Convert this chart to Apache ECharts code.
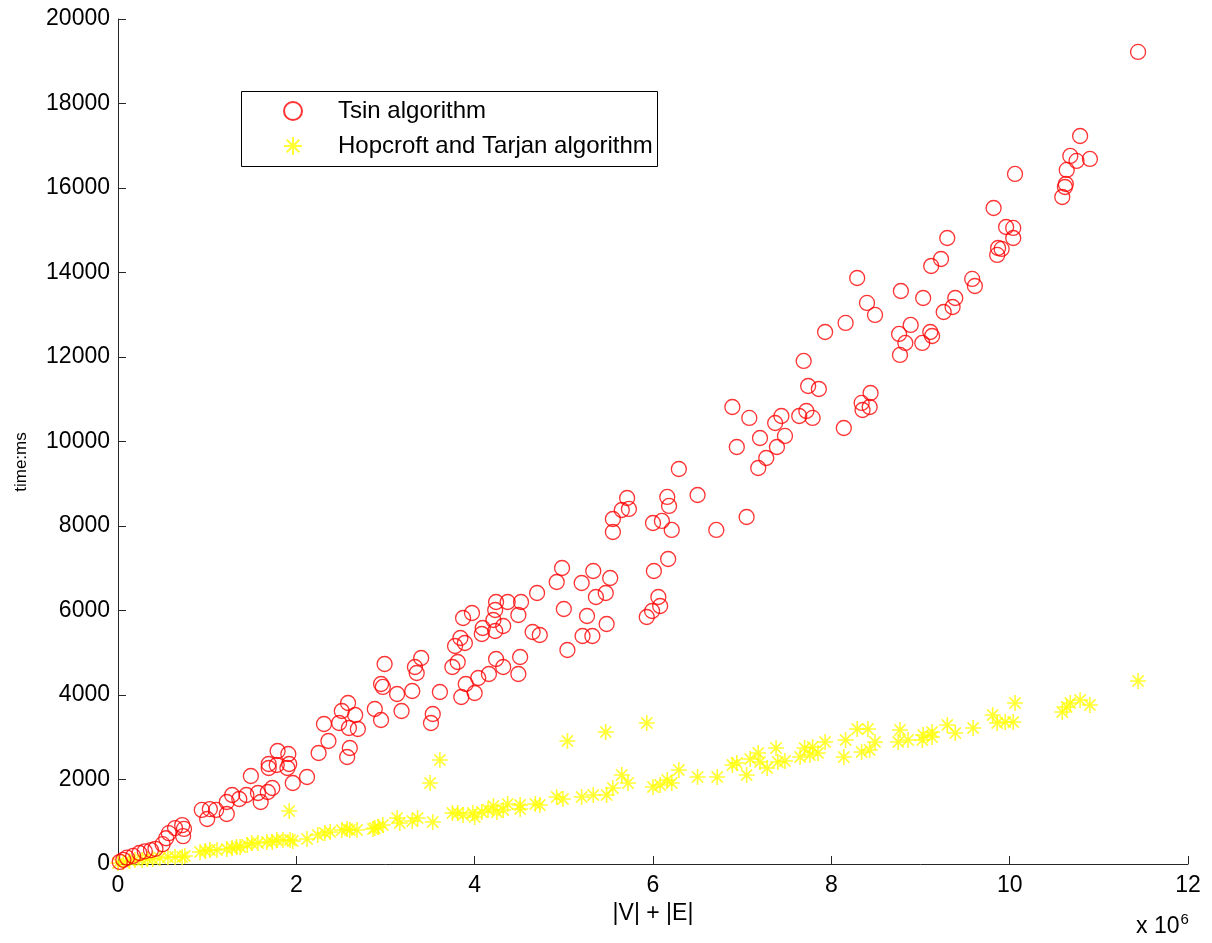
<!DOCTYPE html>
<html>
<head>
<meta charset="utf-8">
<script src="https://cdn.jsdelivr.net/npm/echarts@6/dist/echarts.min.js"></script>
<style>
  html, body { margin: 0; padding: 0; background: #fff; }
  #chart { width: 1212px; height: 943px; }
</style>
</head>
<body>
<div id="chart"></div>
<script>
// x in units of 10^6 (|V| + |E|), y in ms
const tsinX = [0.02, 0.06, 0.10, 0.17, 0.24, 0.30, 0.37, 0.42, 0.50, 0.54, 0.57, 0.64, 0.72, 0.74, 0.73,
  0.94, 1.03, 1.10, 1.00, 1.22, 1.22, 1.28, 1.36, 1.44, 1.49, 1.57, 1.60, 1.68, 1.73, 1.69, 1.78, 1.69, 1.79,
  1.91, 1.92, 1.90, 1.96, 2.12, 2.25, 2.31, 2.36, 2.48, 2.51, 2.58, 2.59, 2.66, 2.69, 2.60, 2.57,
  2.88, 2.95, 2.99, 2.95, 2.97, 3.13, 3.18, 3.30, 3.33, 3.35, 3.40, 3.51, 3.53, 3.61, 3.75, 3.81, 3.85, 3.90,
  4.00, 4.04, 4.16, 4.24, 4.32, 4.51, 4.49, 3.78, 3.84, 3.89, 3.87, 3.97, 4.09, 4.08, 4.21, 4.23, 4.32, 4.23,
  4.24, 4.37, 4.52, 4.49, 4.65, 4.73, 4.70, 4.92, 4.98, 5.00, 5.04, 5.20, 5.33, 5.21, 5.32, 5.26, 5.36, 5.47,
  5.52, 5.48, 5.55, 5.55, 5.65, 5.73, 5.71, 5.93, 5.99, 6.08, 6.06, 6.01, 6.17, 6.00, 6.10, 6.21, 6.16, 6.18,
  6.29, 6.50, 6.71, 7.05, 6.89, 7.08, 6.94, 7.20, 7.18, 7.27, 7.39, 7.48, 7.37, 7.44, 7.64, 7.72, 7.79, 7.74,
  7.86, 8.14, 7.69, 7.93, 8.34, 8.35, 8.43, 8.44, 8.16, 8.29, 8.40, 8.49, 8.76, 8.83, 8.77, 8.89, 9.02, 9.11,
  9.13, 8.78, 9.03, 9.26, 9.36, 9.39, 9.58, 9.61, 9.12, 9.23, 9.30, 9.82, 9.86, 9.91, 9.87, 9.96, 10.04, 10.04,
  10.06, 10.59, 10.62, 10.63, 10.64, 10.68, 10.75, 10.90, 10.79, 11.44]
const tsinY = [50, 100, 150, 190, 260, 300, 330, 360, 470, 610, 730, 850, 920, 830, 660,
  1280, 1300, 1280, 1065, 1467, 1183, 1633, 1538, 1633, 2083, 1680, 1467, 1704, 1799, 2367, 2343, 2272, 2675,
  2604, 2367, 2272, 1917, 2059, 2627, 3314, 2911, 3337, 3621, 3811, 3219, 3527, 3195, 2746, 2533,
  3669, 3408, 4734, 4260, 4190, 4024, 3621, 4095, 4663, 4521, 4876, 3337, 3550, 4071, 4663, 4781, 3953, 4260,
  4047, 4402, 4497, 4852, 4663, 4900, 4497, 5160, 5349, 5231, 5823, 5941, 5586, 5444, 5775, 5515, 5633, 6012,
  6201, 6201, 6201, 5894, 5491, 5420, 6414, 6675, 7006, 6036, 5065, 6651, 6935, 5397, 5397, 5870, 6320, 6414,
  6769, 5680, 8166, 7858, 8379, 8403, 8663, 5846, 5988, 6107, 6320, 6935, 7219, 8071, 8119, 7906, 8687, 8474,
  9349, 8734, 7906, 8213, 10817, 10557, 9870, 10083, 9373, 9610, 9870, 10131, 10438, 10604, 10604, 10722, 10557, 11314,
  11243, 10320, 11906, 12592, 10912, 10746, 10817, 11148, 12806, 13870, 13279, 12995, 12545, 12332, 12048, 12758, 12332, 12592,
  12497, 13562, 13397, 13065, 13184, 13397, 13847, 13681, 14154, 14320, 14817, 15527, 14415, 14557, 14580, 15077, 15054, 14817,
  16332, 15787, 16024, 16095, 16427, 16758, 16640, 16687, 17231, 19220]

const htX = [0.00, 0.06, 0.13, 0.19, 0.27, 0.33, 0.39, 0.47, 0.56, 0.64, 0.72, 0.75, 0.92, 0.98, 1.03, 1.11,
  1.22, 1.28, 1.33, 1.37, 1.45, 1.50, 1.57, 1.67, 1.73, 1.78, 1.85, 1.93, 1.96, 2.12, 2.24, 2.32, 2.38, 2.51,
  2.57, 2.60, 2.68, 2.88, 1.92, 2.86, 2.92, 2.97, 3.13, 3.16, 3.30, 3.36, 3.53, 3.75, 3.81, 3.87, 3.98, 4.00,
  4.08, 4.15, 4.21, 4.25, 4.32, 4.37, 4.51, 4.51, 4.68, 4.73, 4.92, 4.99, 5.20, 5.33, 5.48, 5.55, 5.65, 5.72,
  6.00, 6.08, 6.16, 6.21, 6.29, 6.50, 6.72, 6.89, 6.94, 7.05, 7.09, 7.18, 7.20, 7.28, 7.38, 7.40, 7.48, 7.65,
  7.70, 7.76, 7.79, 7.85, 7.93, 8.14, 8.16, 8.29, 8.34, 8.41, 8.43, 8.49, 8.75, 8.77, 8.86, 9.02, 9.03, 9.13,
  9.13, 9.30, 9.39, 9.59, 9.81, 9.86, 9.95, 10.04, 10.06, 10.59, 10.64, 10.68, 10.79, 10.90, 11.44,
  3.50, 3.61, 5.04, 5.47, 5.93]
const htY = [24, 47, 71, 95, 95, 118, 118, 142, 166, 166, 166, 189, 284, 308, 331, 331,
  355, 379, 402, 402, 450, 497, 497, 521, 521, 568, 568, 568, 544, 592, 686, 734, 757, 805,
  828, 805, 805, 852, 1254, 828, 876, 923, 1089, 970, 1018, 1089, 994, 1207, 1207, 1160, 1207, 1112,
  1231, 1278, 1373, 1231, 1278, 1420, 1396, 1302, 1420, 1396, 1586, 1539, 1586, 1633, 1633, 1799, 2107, 1917,
  1823, 1870, 1988, 1917, 2225, 2059, 2059, 2343, 2391, 2107, 2485, 2627, 2414, 2272, 2746, 2414, 2438, 2533,
  2746, 2580, 2769, 2627, 2888, 2533, 2935, 3195, 2651, 3195, 2698, 2888, 2888, 3172, 2935, 2935, 3053, 3006,
  3124, 3290, 3101, 3219, 3527, 3337, 3361, 3361, 3811, 3598, 3716, 3811, 3882, 3763, 4332,
  1917, 2462, 2911, 3124, 3337]

const xTicks = [0, 2, 4, 6, 8, 10, 12]
const yTicks = [0, 2000, 4000, 6000, 8000, 10000, 12000, 14000, 16000, 18000, 20000]

const tsinData = tsinX.map((x, i) => [x, tsinY[i]])
const htData = htX.map((x, i) => [x, htY[i]])

const font = "'Liberation Sans', Arial, sans-serif"
const axisColor = "#262626"
const asterisk = "path://M0,-10L0,10M-10,0L10,0M-7,-7L7,7M-7,7L7,-7"

const chart = echarts.init(document.getElementById("chart"))
chart.setOption({
    animation: false,
    backgroundColor: "#fff",
    grid: { left: 118, right: 24, top: 19, bottom: 79 },
    xAxis: {
        type: "value",
        min: xTicks[0],
        max: xTicks[xTicks.length - 1],
        interval: 2,
        name: "|V| + |E|",
        nameLocation: "middle",
        nameGap: 38,
        nameTextStyle: { fontFamily: font, fontSize: 23, color: "#000" },
        axisLine: { lineStyle: { color: axisColor, width: 1 } },
        axisTick: { inside: true, length: 8, lineStyle: { color: axisColor } },
        axisLabel: { fontFamily: font, fontSize: 23, color: "#000", margin: 10 },
        splitLine: { show: false },
    },
    yAxis: {
        type: "value",
        min: yTicks[0],
        max: yTicks[yTicks.length - 1],
        interval: 2000,
        axisLine: { show: true, lineStyle: { color: axisColor, width: 1 } },
        axisTick: { show: true, inside: true, length: 8, lineStyle: { color: axisColor } },
        axisLabel: { fontFamily: font, fontSize: 23, color: "#000", margin: 8, formatter: v => String(v) },
        splitLine: { show: false },
    },
    legend: {
        orient: "vertical",
        left: 283,
        top: 99,
        itemWidth: 18,
        itemHeight: 18,
        itemGap: 11,
        padding: 0,
        textStyle: { fontFamily: font, fontSize: 24, color: "#000", padding: [0, 0, 0, 31] },
        data: ["Tsin algorithm", "Hopcroft and Tarjan algorithm"],
    },
    graphic: [
        {
            type: "rect",
            left: 241,
            top: 91,
            z: -1,
            shape: { width: 416, height: 75 },
            style: { fill: "#fff", stroke: "#000", lineWidth: 1 },
        },
        {
            type: "text",
            x: 21,
            y: 462,
            rotation: Math.PI / 2,
            style: {
                text: "time:ms",
                fontFamily: font,
                fontSize: 17,
                fill: "#000",
                align: "center",
                verticalAlign: "middle",
            },
        },
        {
            type: "text",
            left: 1136,
            top: 912,
            style: {
                text: "x 10{sup|6}",
                fontFamily: font,
                fontSize: 23,
                fill: "#000",
                rich: { sup: { fontFamily: font, fontSize: 15, verticalAlign: "top", padding: [0, 0, 14, 1] } },
            },
        },
    ],
    series: [
        {
            name: "Tsin algorithm",
            type: "scatter",
            symbol: "circle",
            symbolSize: 15,
            data: tsinData,
            itemStyle: { color: "rgba(0,0,0,0)", borderColor: "#ff0000", borderWidth: 1.3 },
            z: 3,
        },
        {
            name: "Hopcroft and Tarjan algorithm",
            type: "scatter",
            symbol: asterisk,
            symbolSize: 16,
            data: htData,
            itemStyle: { color: "#ffff00", borderColor: "#ffff00", borderWidth: 1.6 },
            z: 2,
        },
    ],
})
</script>
</body>
</html>
